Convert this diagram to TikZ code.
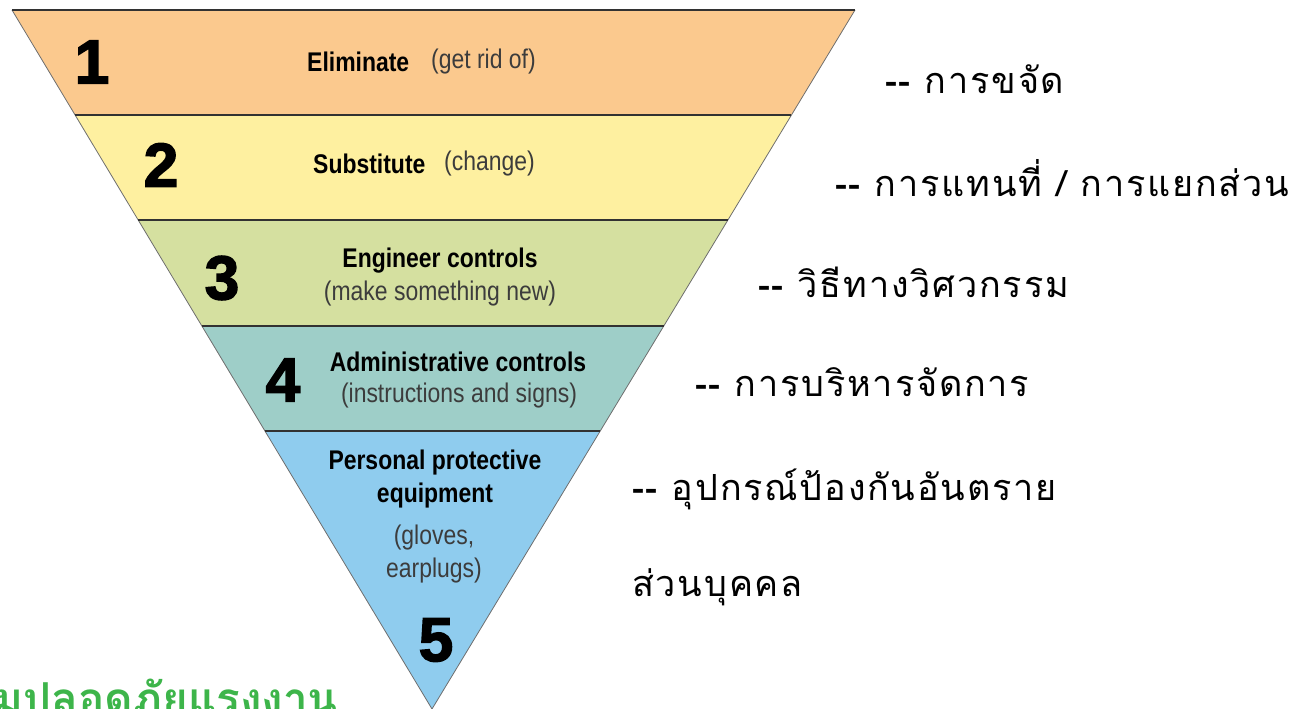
\documentclass[tikz,border=0pt]{standalone}
\usepackage{fontspec}
\usetikzlibrary{calc}
\newfontfamily\thai[Script=Thai,LetterSpace=5]{Loma}
\newfontfamily\thaiwm[Script=Thai]{Loma}
\newfontfamily\nar[FakeStretch=0.85]{Liberation Sans}
\newfontfamily\heavy[FakeBold=2.5]{Liberation Sans Bold}
\definecolor{bandA}{RGB}{251,201,142}
\definecolor{bandB}{RGB}{254,240,160}
\definecolor{bandC}{RGB}{213,224,160}
\definecolor{bandD}{RGB}{158,206,200}
\definecolor{bandE}{RGB}{143,204,238}
\definecolor{sepline}{RGB}{50,50,50}
\definecolor{edgeline}{RGB}{110,110,110}
\definecolor{subtext}{RGB}{60,60,60}
\definecolor{logogreen}{RGB}{61,181,74}
\tikzset{
  numlbl/.style={font=\heavy\fontsize{62}{62}\selectfont, inner sep=0pt},
  mainlbl/.style={font=\nar\bfseries\fontsize{27}{30}\selectfont, inner sep=0pt},
  sublbl/.style={font=\nar\fontsize{27}{30}\selectfont, text=subtext, inner sep=0pt},
  thailbl/.style={font=\thai\fontsize{36}{40}\selectfont, anchor=base west, inner sep=0pt},
  sep/.style={draw=sepline, line width=1.6pt},
  edge/.style={draw=edgeline, line width=0.8pt}
}
\begin{document}
\begin{tikzpicture}[x=1pt,y=-1pt]
\useasboundingbox (0,0) rectangle (1298,709);
\clip (0,0) rectangle (1298,709);
\coordinate (TL) at (12,10);
\coordinate (TR) at (855,10);
\coordinate (AP) at (432,709);
\coordinate (L1) at ($(TL)!0.1502!(AP)$);
\coordinate (R1) at ($(TR)!0.1502!(AP)$);
\coordinate (L2) at ($(TL)!0.3004!(AP)$);
\coordinate (R2) at ($(TR)!0.3004!(AP)$);
\coordinate (L3) at ($(TL)!0.4521!(AP)$);
\coordinate (R3) at ($(TR)!0.4521!(AP)$);
\coordinate (L4) at ($(TL)!0.6023!(AP)$);
\coordinate (R4) at ($(TR)!0.6023!(AP)$);
% bands
\fill[bandA] (TL) -- (TR) -- (R1) -- (L1) -- cycle;
\fill[bandB] (L1) -- (R1) -- (R2) -- (L2) -- cycle;
\fill[bandC] (L2) -- (R2) -- (R3) -- (L3) -- cycle;
\fill[bandD] (L3) -- (R3) -- (R4) -- (L4) -- cycle;
\fill[bandE] (L4) -- (R4) -- (AP) -- cycle;
\draw[edge] (TL) -- (AP) -- (TR);
\draw[sep] (TL) -- (TR);
\draw[sep] (L1) -- (R1);
\draw[sep] (L2) -- (R2);
\draw[sep] (L3) -- (R3);
\draw[sep] (L4) -- (R4);
% numbers
\node[numlbl] (n1) at (92,62) {1};
\node[numlbl] (n2) at (161,165) {2};
\node[numlbl] (n3) at (222,278) {3};
\node[numlbl] (n4) at (283,380) {4};
\node[numlbl] (n5) at (436,640) {5};
% band labels
\node[mainlbl, anchor=west] (t1) at (307,62) {Eliminate};
\node[sublbl, anchor=west] (s1) at (431,62) {(get rid of)};
\node[mainlbl, anchor=west] (t2) at (313,164) {Substitute};
\node[sublbl, anchor=west] (s2) at (444,164) {(change)};
\node[mainlbl] (t3) at (440,261) {Engineer controls};
\node[sublbl] (s3) at (440,294) {(make something new)};
\node[mainlbl] (t4) at (458,362) {Administrative controls};
\node[sublbl] (s4) at (459,396) {(instructions and signs)};
\node[mainlbl] (t5a) at (435,463) {Personal protective};
\node[mainlbl] (t5b) at (435,496) {equipment};
\node[sublbl] (s5a) at (434,538) {(gloves,};
\node[sublbl] (s5b) at (434,571) {earplugs)};
% thai labels
\node[thailbl] (th1) at (885,93) {{\bfseries -{}-} การขจัด};
\node[thailbl] (th2) at (835,196) {{\bfseries -{}-} การแทนที่ / การแยกส่วน};
\node[thailbl] (th3) at (758,297) {{\bfseries -{}-} วิธีทางวิศวกรรม};
\node[thailbl] (th4) at (695,396) {{\bfseries -{}-} การบริหารจัดการ};
\node[thailbl] (th5) at (632,500) {{\bfseries -{}-} อุปกรณ์ป้องกันอันตราย};
\node[thailbl] (th6) at (632,596) {ส่วนบุคคล};
% watermark
\node[font=\thaiwm\bfseries\fontsize{44}{44}\selectfont, text=logogreen, anchor=base east, inner sep=0pt] (wm) at (338,714) {กองความปลอดภัยแรงงาน};
\end{tikzpicture}
\end{document}
